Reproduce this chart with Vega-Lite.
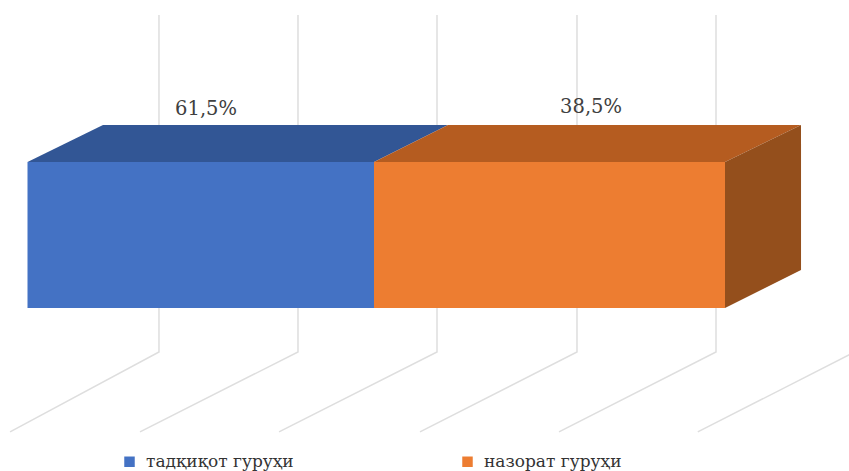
{
  "$schema": "https://vega.github.io/schema/vega-lite/v6.json",
  "width": 849,
  "height": 471,
  "padding": 0,
  "autosize": {"type": "none"},
  "background": "white",
  "view": {"stroke": null},
  "datasets": {
    "shares": [
      {"group": "тадқиқот гуруҳи", "share": 61.5, "rank": 1, "low": 0, "high": 100},
      {"group": "назорат гуруҳи", "share": 38.5, "rank": 2, "low": 0, "high": 100}
    ],
    "faces": [
      {"face": "top-a", "u": 0, "upper": 100, "lower": 100},
      {"face": "top-a", "u": 10.82, "upper": 125.3, "lower": 100},
      {"face": "top-a", "u": 49.68, "upper": 125.3, "lower": 100},
      {"face": "top-a", "u": 60.29, "upper": 125.3, "lower": 125.3},
      {"face": "top-b", "u": 49.68, "upper": 100, "lower": 100},
      {"face": "top-b", "u": 60.29, "upper": 125.3, "lower": 100},
      {"face": "top-b", "u": 100, "upper": 125.3, "lower": 100},
      {"face": "top-b", "u": 110.9, "upper": 125.3, "lower": 125.3},
      {"face": "side", "u": 100, "upper": 100, "lower": 0},
      {"face": "side", "u": 110.9, "upper": 125.3, "lower": 26}
    ],
    "grid": [
      {"line": 1, "step": 1, "u": 18.85, "v": 200.7},
      {"line": 1, "step": 2, "u": 18.85, "v": -30.1},
      {"line": 1, "step": 3, "u": -2.5, "v": -84.9},
      {"line": 2, "step": 1, "u": 38.78, "v": 200.7},
      {"line": 2, "step": 2, "u": 38.78, "v": -30.1},
      {"line": 2, "step": 3, "u": 16.13, "v": -84.9},
      {"line": 3, "step": 1, "u": 58.71, "v": 200.7},
      {"line": 3, "step": 2, "u": 58.71, "v": -30.1},
      {"line": 3, "step": 3, "u": 36.06, "v": -84.9},
      {"line": 4, "step": 1, "u": 78.78, "v": 200.7},
      {"line": 4, "step": 2, "u": 78.78, "v": -30.1},
      {"line": 4, "step": 3, "u": 56.27, "v": -84.9},
      {"line": 5, "step": 1, "u": 98.71, "v": 200.7},
      {"line": 5, "step": 2, "u": 98.71, "v": -30.1},
      {"line": 5, "step": 3, "u": 76.2, "v": -84.9},
      {"line": 6, "step": 2, "u": 118.6, "v": -30.1},
      {"line": 6, "step": 3, "u": 96.1, "v": -84.9}
    ],
    "labels": [
      {"text": "61,5%", "u": 25.6, "v": 132.2},
      {"text": "38,5%", "u": 80.8, "v": 133.6}
    ]
  },
  "layer": [
    {
      "data": {"name": "grid"},
      "mark": {"type": "line", "stroke": "#dedede", "strokeWidth": 1.5, "clip": false},
      "encoding": {
        "x": {"field": "u", "type": "quantitative", "axis": null,
              "scale": {"domain": [0, 100], "range": [27.5, 725], "nice": false, "zero": false}},
        "y": {"field": "v", "type": "quantitative", "axis": null,
              "scale": {"domain": [0, 100], "range": [308, 162], "nice": false, "zero": false}},
        "detail": {"field": "line", "type": "nominal"},
        "order": {"field": "step", "type": "quantitative"}
      }
    },
    {
      "data": {"name": "faces"},
      "mark": {"type": "area", "interpolate": "linear", "clip": false},
      "encoding": {
        "x": {"field": "u", "type": "quantitative", "axis": null,
              "scale": {"domain": [0, 100], "range": [27.5, 725], "nice": false, "zero": false}},
        "y": {"field": "upper", "type": "quantitative", "axis": null, "stack": null,
              "scale": {"domain": [0, 100], "range": [308, 162], "nice": false, "zero": false}},
        "y2": {"field": "lower"},
        "color": {"field": "face", "type": "nominal", "legend": null,
                  "scale": {"domain": ["top-a", "top-b", "side"], "range": ["#325695", "#b55c20", "#944f1c"]}}
      }
    },
    {
      "data": {"name": "shares"},
      "transform": [
        {"stack": "share", "groupby": [], "sort": [{"field": "rank", "order": "ascending"}], "as": ["start", "end"]}
      ],
      "mark": {"type": "rect", "clip": false},
      "encoding": {
        "x": {"field": "start", "type": "quantitative", "axis": null,
              "scale": {"domain": [0, 61.5, 100], "range": [27.5, 374, 725], "nice": false, "zero": false}},
        "x2": {"field": "end"},
        "y": {"field": "high", "type": "quantitative", "axis": null,
              "scale": {"domain": [0, 100], "range": [308, 162], "nice": false, "zero": false}},
        "y2": {"field": "low"},
        "color": {
          "field": "group", "type": "nominal",
          "scale": {"domain": ["тадқиқот гуруҳи", "назорат гуруҳи"], "range": ["#4472c4", "#ed7d31"]},
          "legend": {
            "title": null, "orient": "none", "legendX": 121, "legendY": 453,
            "direction": "horizontal", "columns": 2, "columnPadding": 165,
            "symbolType": "square", "symbolSize": 110, "symbolStrokeWidth": 0,
            "labelFont": "DejaVu Serif", "labelFontSize": 17, "labelColor": "#333333",
            "labelLimit": 300, "labelOffset": 8
          }
        }
      }
    },
    {
      "data": {"name": "labels"},
      "mark": {"type": "text", "font": "DejaVu Serif", "fontSize": 19.5, "fill": "#404040", "align": "center", "baseline": "alphabetic", "clip": false},
      "encoding": {
        "x": {"field": "u", "type": "quantitative", "axis": null,
              "scale": {"domain": [0, 100], "range": [27.5, 725], "nice": false, "zero": false}},
        "y": {"field": "v", "type": "quantitative", "axis": null,
              "scale": {"domain": [0, 100], "range": [308, 162], "nice": false, "zero": false}},
        "text": {"field": "text", "type": "nominal"}
      }
    }
  ],
  "resolve": {"scale": {"x": "independent", "color": "independent"}, "axis": {"x": "independent"}}
}
